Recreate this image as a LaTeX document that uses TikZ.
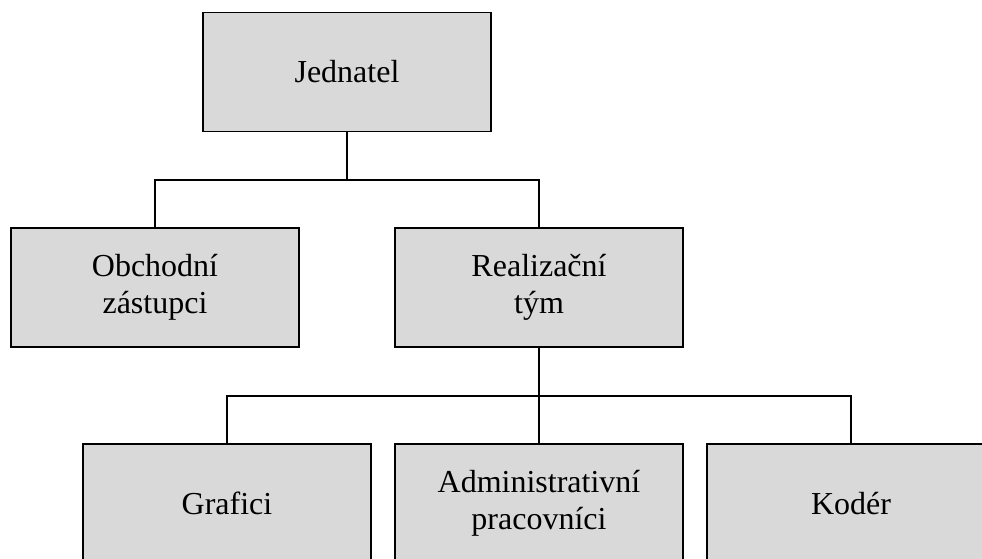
\documentclass[tikz,border=0pt]{standalone}
\usepackage{fontspec}
\setmainfont{Liberation Serif}
\begin{document}
\begin{tikzpicture}[x=1pt,y=-1pt,
  orgbox/.style={draw=black,line width=1.8pt,fill=boxgray,minimum width=288pt,minimum height=119pt,inner sep=0pt,align=center,font=\fontsize{32}{37}\selectfont},
  link/.style={draw=black,line width=1.8pt}]
\definecolor{boxgray}{HTML}{D9D9D9}
\useasboundingbox (0,0) rectangle (982,559);
\clip (0,0) rectangle (982,559);
\node[orgbox] (j) at (347,72) {Jednatel};
\node[orgbox] (o) at (155,287.5) {Obchodní\\zástupci};
\node[orgbox] (r) at (539,287.5) {Realizační\\tým};
\node[orgbox] (g) at (227,503.5) {Grafici};
\node[orgbox] (a) at (539,503.5) {Administrativní\\pracovníci};
\node[orgbox] (k) at (851,503.5) {Kodér};
\coordinate (bus1) at (347,180);
\coordinate (bus2) at (539,396);
\draw[link] (j.south) -- (bus1);
\draw[link] (o.north) |- (bus1) -| (r.north);
\draw[link] (r.south) -- (bus2);
\draw[link] (g.north) |- (bus2) -| (k.north);
\draw[link] (bus2) -- (a.north);
\end{tikzpicture}
\end{document}
